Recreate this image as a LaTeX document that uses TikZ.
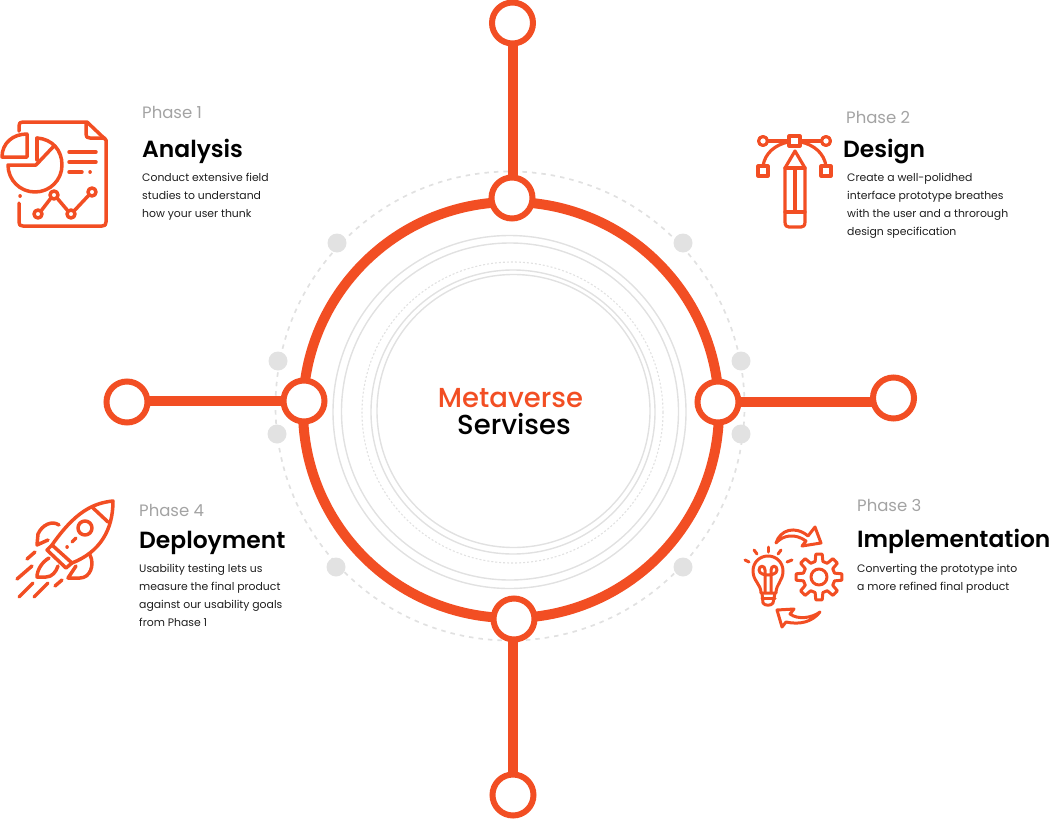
\documentclass[tikz,border=0pt]{standalone}
\usepackage{fontspec}
\setmainfont{Poppins}
\newfontfamily\pmed{Poppins Medium}
\newfontfamily\psemi{Poppins SemiBold}
\definecolor{orng}{HTML}{F24E23}
\definecolor{ringgray}{HTML}{E1E1E1}
\definecolor{dotgray}{HTML}{E2E2E2}
\definecolor{phasegray}{HTML}{A3A3A3}
\definecolor{bodyink}{HTML}{1E1E1E}
\pgfdeclarelayer{front}
\pgfsetlayers{main,front}
\tikzset{
  hub/.style={circle,draw=orng,fill=white,line width=6,minimum size=41,inner sep=0},
  spoke/.style={draw=orng,line width=10},
  thinring/.style={circle,draw=ringgray,line width=1.4,inner sep=0},
  grayspot/.style={circle,fill=dotgray,minimum size=19,inner sep=0},
  icon/.style={draw=orng,line width=3.5,line cap=round,line join=round},
  phaselabel/.style={anchor=base west,inner sep=0,text=phasegray,font=\fontsize{16.5}{20}\selectfont},
  titlelabel/.style={anchor=base west,inner sep=0,text=black,font=\psemi\fontsize{23.4}{28}\selectfont},
  bodylabel/.style={anchor=north west,inner sep=0,align=left,text=bodyink,font=\fontsize{10.85}{17.7}\selectfont},
}
\begin{document}
\begin{tikzpicture}[x=1pt,y=-1pt]
\useasboundingbox (0,0) rectangle (1052,819);
% rings
\node[circle,draw=ringgray,line width=1.7,dash pattern=on 4.5pt off 5pt,minimum size=469,inner sep=0] (dashring) at (510,406) {};
\node[thinring,minimum size=353] (r1) at (509.5,412) {};
\node[thinring,minimum size=337] (r2) at (510,411.5) {};
\node[circle,draw=ringgray,line width=1.1,dash pattern=on 2pt off 2pt,minimum size=301,inner sep=0] (r3) at (512.5,412.5) {};
\node[thinring,minimum size=284] (r4) at (513,412) {};
\node[thinring,minimum size=273] (r5) at (513.5,411) {};
% grey spots
\node[grayspot] (s1) at (337,243) {};
\node[grayspot] (s2) at (683,243) {};
\node[grayspot] (s3) at (278,361) {};
\node[grayspot] (s4) at (741,361) {};
\node[grayspot] (s5) at (277,434) {};
\node[grayspot] (s6) at (741,434) {};
\node[grayspot] (s7) at (336,567) {};
\node[grayspot] (s8) at (683,567) {};
% main ring
\node[circle,draw=orng,line width=10,minimum size=416,inner sep=0] (ring) at (511,410) {};
% hubs
\begin{pgfonlayer}{front}
\node[hub] (ht) at (512,198) {};
\node[hub] (hl) at (304,401) {};
\node[hub] (hr) at (718,402) {};
\node[hub] (hb) at (514,619) {};
\node[hub] (et) at (512.5,23) {};
\node[hub] (el) at (127,402) {};
\node[hub] (er) at (893.5,398) {};
\node[hub] (eb) at (513,795) {};
\end{pgfonlayer}
\draw[spoke] (et.center) -- (et.center |- ht.center);
\draw[spoke] (hl.center) -- (el.center |- hl.center);
\draw[spoke] (hr.center) -- (er.center |- hr.center);
\draw[spoke] (eb.center) -- (eb.center |- hb.center);
% centre text
\node[inner sep=0,anchor=base,text=orng,font=\pmed\fontsize{27.5}{30}\selectfont] (t1) at (510.5,407) {Metaverse};
\node[inner sep=0,anchor=base,text=black,font=\pmed\fontsize{27.5}{30}\selectfont] (t2) at (514,434) {Servises};
% phase 1
\node[phaselabel] (p1) at (142,118) {Phase 1};
\node[titlelabel] (n1) at (142,157.5) {Analysis};
\node[bodylabel] (b1) at (142,173.5) {Conduct extensive field\\studies to understand\\how your user thunk};
% phase 2
\node[phaselabel] (p2) at (846,123) {Phase 2};
\node[titlelabel] (n2) at (843,157.5) {Design};
\node[bodylabel] (b2) at (847,173.5) {Create a well-polidhed\\interface prototype breathes\\with the user and a throrough\\design specification};
% phase 3
\node[phaselabel] (p3) at (857,511) {Phase 3};
\node[titlelabel] (n3) at (857,547) {Implementation};
\node[bodylabel] (b3) at (857,564.5) {Converting the prototype into\\a more refined final product};
% phase 4
\node[phaselabel] (p4) at (139,516) {Phase 4};
\node[titlelabel] (n4) at (139,548) {Deployment};
\node[bodylabel] (b4) at (139,564.5) {Usability testing lets us\\measure the final product\\against our usability goals\\from Phase 1};
% icon 1
\begin{scope}[icon]
\draw (19,203) -- (19,222) .. controls (19,225) and (20,226) .. (23,226) -- (102,226) .. controls (105,226) and (106,225) .. (106,222) -- (106,140) -- (87,122) -- (23,122) .. controls (20,122) and (19,123) .. (19,126) -- (19,131);
\draw (86,123) -- (86,134) .. controls (86,137) and (87,138) .. (90,138) -- (105,138);
\draw (27,134) -- (27,157) -- (2,157) .. controls (2,143) and (13,134) .. (27,134) -- cycle;
\draw (37,138) .. controls (52,139) and (62,150) .. (62,165) .. controls (62,180) and (50,192) .. (35,192) .. controls (20,192) and (8,180) .. (8,165) -- (36,165) -- (53,147);
\draw (37,138) -- (37,160);
\draw (69,152) -- (96,152);
\draw (69,162) -- (96,162);
\draw (69,172) -- (82,172);
\draw (90,172) -- (90.1,172);
\draw (20,196) -- (20.1,196);
\draw (38,214) circle (4);
\draw (54,195) circle (4);
\draw (71,214) circle (4);
\draw (92,192) circle (4);
\draw (41,211) -- (51,198);
\draw (57,198) -- (68,211);
\draw (74,211) -- (89,195);
\end{scope}
% icon 2
\begin{scope}[icon,line width=3.2]
\draw (763,141) circle (4.5);
\draw (826,141) circle (4.5);
\draw (789,136) rectangle (800,146);
\draw (758,166) rectangle (768,176);
\draw (821,166) rectangle (831,176);
\draw (768,141) -- (789,141);
\draw (800,141) -- (821,141);
\draw (763,166) .. controls (765,153) and (775,145) .. (788,142);
\draw (826,166) .. controls (824,153) and (814,145) .. (801,142);
\draw (785,168) -- (795,151) -- (805,168) -- (805,222) .. controls (805,226) and (803,227) .. (801,227) -- (789,227) .. controls (787,227) and (785,226) .. (785,222) -- cycle;
\draw (785,168) -- (805,168);
\draw (785,212) -- (805,212);
\draw (795,168) -- (795,212);
\end{scope}
% icon 4 rocket
\begin{scope}[icon]
\draw (113,501) .. controls (93,503) and (75,512) .. (52,545) -- (72,563) .. controls (100,552) and (113,530) .. (113,501) -- cycle;
\draw (92,507) -- (108,522);
\draw (85,528) circle (7);
\draw (72,542) -- (76,538);
\draw (67,547) -- (67.1,547);
\draw (52,545) -- (47,550) -- (66,568) -- (72,563);
\draw (59,525) .. controls (52,520) and (42,525) .. (38,534) -- (37,545) -- (48,540);
\draw (90,555) .. controls (95,565) and (90,578) .. (80,578) -- (68,578) -- (76,566);
\draw (49,558) .. controls (42,562) and (37,570) .. (37,577) -- (46,577) .. controls (52,577) and (56,572) .. (58,566);
\draw (27,559) -- (35,552);
\draw (17,579) -- (32,566);
\draw (19,597) -- (33,583);
\draw (34,597) -- (48,583);
\draw (55,586) -- (62,580);
\end{scope}
% icon 3 bulb, gear, arrows
\begin{scope}[icon,line width=3]
\draw (761,593) .. controls (761,584) and (753,581) .. (753,571) .. controls (753,562) and (760,556) .. (768,556) .. controls (776,556) and (783,562) .. (783,571) .. controls (783,581) and (776,584) .. (776,593) -- cycle;
\draw (762,598) -- (775,598);
\draw (762,593) -- (763,603) .. controls (765,606) and (771,606) .. (773,603) -- (775,593);
\draw (765,592) -- (765,570) .. controls (765,565) and (759,565) .. (759,570) .. controls (759,574) and (765,575) .. (768,575) .. controls (771,575) and (777,574) .. (777,570) .. controls (777,565) and (771,565) .. (771,570) -- (771,592);
\draw (768,547) -- (768,552);
\draw (754,550) -- (757,554);
\draw (781,550) -- (778,554);
\draw (745,560) -- (749,562);
\draw (792,560) -- (787,562);
\draw (819,577) circle (8);
\draw[shift={(819,577)}] (-14:16)
  \foreach \a in {0,45,...,315} { -- (\a-14:16) -- (\a-8:23) -- (\a+8:23) -- (\a+14:16) } -- cycle;
\draw (776,543) .. controls (780,530) and (795,525) .. (808,536) -- (815,527) -- (821,543) -- (802,546) -- (806,541) .. controls (795,533) and (783,535) .. (776,543) -- cycle;
\draw (820,612) .. controls (812,622) and (800,625) .. (786,622) -- (782,627) -- (777,610) -- (794,609) -- (790,614) .. controls (798,620) and (812,618) .. (820,612) -- cycle;
\end{scope}
\end{tikzpicture}
\end{document}
